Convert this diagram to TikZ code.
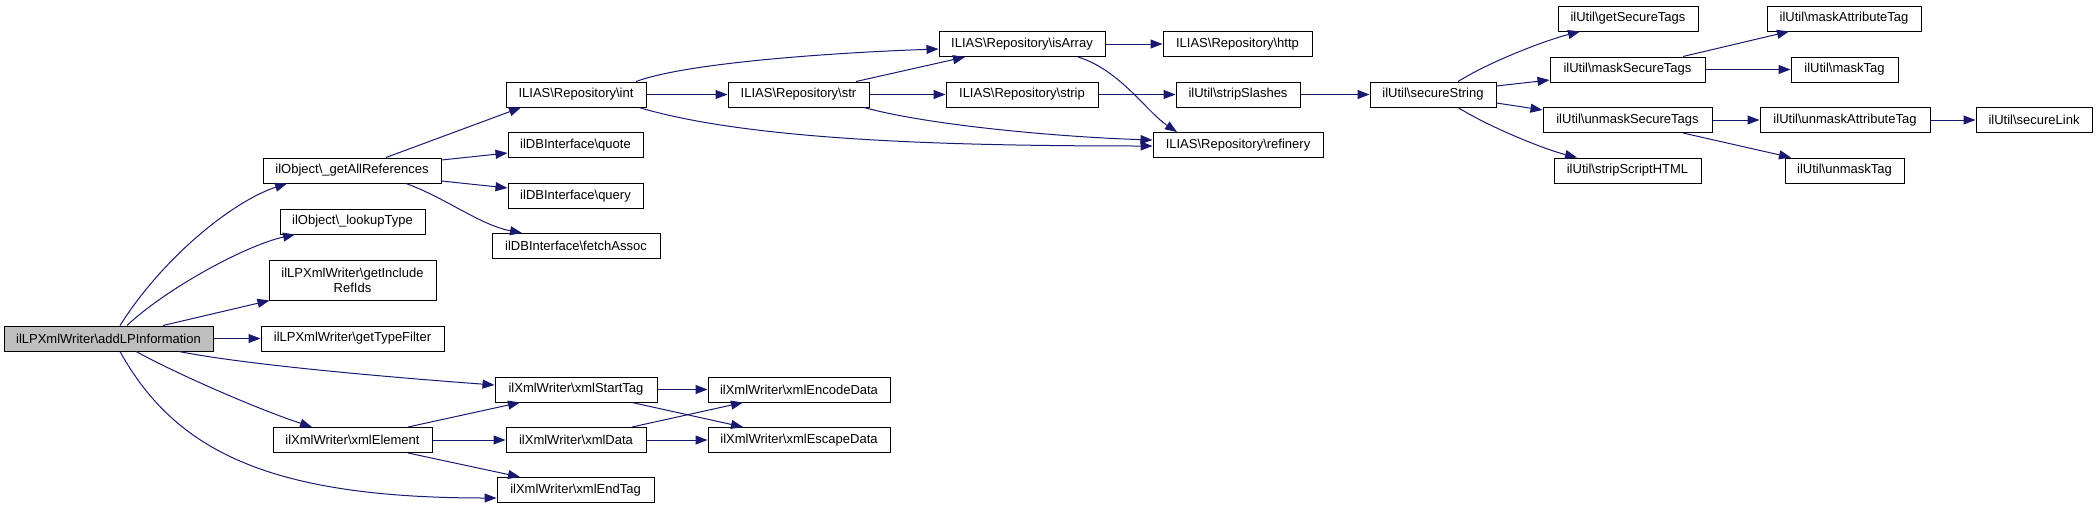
\documentclass[tikz,border=0pt]{standalone}
\usepackage{fontspec}
\setmainfont{Liberation Sans}
\usepackage{tikz}
\usetikzlibrary{arrows.meta}
\definecolor{callblue}{RGB}{25,25,112}
\definecolor{rootgray}{RGB}{191,191,191}
\newcommand{\bsl}{\textbackslash}

\begin{document}
\begin{tikzpicture}[x=1pt, y=-1pt,
    fn/.style={draw=black, line width=1pt, fill=white, inner sep=0pt, minimum height=25pt,
        font=\fontsize{13}{15}\selectfont},
    call/.style={draw=callblue, line width=1pt, -{Triangle[length=12pt,width=9pt]}}]
\useasboundingbox (0,0) rectangle (2097,509);

% left columns
\node[fn, fill=rootgray, minimum width=209pt] (addlp) at (108.5,338.5) {ilLPXmlWriter\bsl addLPInformation};
\node[fn, minimum width=178pt] (allrefs) at (352,170.5) {ilObject\bsl\_getAllReferences};
\node[fn, minimum width=145pt] (lookup) at (352.5,221.5) {ilObject\bsl\_lookupType};
\node[fn, minimum width=167pt, minimum height=40pt, align=center] (incl) at (352.5,280) {ilLPXmlWriter\bsl getInclude\\RefIds};
\node[fn, minimum width=183pt] (tfilter) at (352.5,338.5) {ilLPXmlWriter\bsl getTypeFilter};
\node[fn, minimum width=159pt] (element) at (352.5,440) {ilXmlWriter\bsl xmlElement};

\node[fn, minimum width=140pt] (int) at (576,94.5) {ILIAS\bsl Repository\bsl int};
\node[fn, minimum width=135pt] (quote) at (575.5,145) {ilDBInterface\bsl quote};
\node[fn, minimum width=135pt] (query) at (575.5,196) {ilDBInterface\bsl query};
\node[fn, minimum width=168pt] (fetch) at (576,246) {ilDBInterface\bsl fetchAssoc};
\node[fn, minimum width=162pt] (starttag) at (576,389.5) {ilXmlWriter\bsl xmlStartTag};
\node[fn, minimum width=140pt] (data) at (576,440) {ilXmlWriter\bsl xmlData};
\node[fn, minimum width=157pt] (endtag) at (575.5,490) {ilXmlWriter\bsl xmlEndTag};

\node[fn, minimum width=141pt] (str) at (798.5,94.5) {ILIAS\bsl Repository\bsl str};
\node[fn, minimum width=182pt] (encode) at (799,389.5) {ilXmlWriter\bsl xmlEncodeData};
\node[fn, minimum width=182pt] (escape) at (799,440) {ilXmlWriter\bsl xmlEscapeData};

% middle columns
\node[fn, minimum width=166pt] (isarray) at (1022,44) {ILIAS\bsl Repository\bsl isArray};
\node[fn, minimum width=152pt] (strip) at (1022,94.5) {ILIAS\bsl Repository\bsl strip};
\node[fn, minimum width=149pt] (http) at (1237.5,44) {ILIAS\bsl Repository\bsl http};
\node[fn, minimum width=124pt] (slashes) at (1238,94.5) {ilUtil\bsl stripSlashes};
\node[fn, minimum width=170pt] (refinery) at (1238,145) {ILIAS\bsl Repository\bsl refinery};
\node[fn, minimum width=126pt] (securestr) at (1433,94.5) {ilUtil\bsl secureString};

% right columns
\node[fn, minimum width=140pt] (gettags) at (1628,18.5) {ilUtil\bsl getSecureTags};
\node[fn, minimum width=155pt] (masktags) at (1627.5,69.5) {ilUtil\bsl maskSecureTags};
\node[fn, minimum width=169pt] (unmasktags) at (1627.5,120) {ilUtil\bsl unmaskSecureTags};
\node[fn, minimum width=147pt] (stripscript) at (1627.5,170.5) {ilUtil\bsl stripScriptHTML};
\node[fn, minimum width=154pt] (maskattr) at (1844,18.5) {ilUtil\bsl maskAttributeTag};
\node[fn, minimum width=107pt] (masktag) at (1844.5,69.5) {ilUtil\bsl maskTag};
\node[fn, minimum width=170pt] (unmaskattr) at (1845,120) {ilUtil\bsl unmaskAttributeTag};
\node[fn, minimum width=119pt] (unmasktag) at (1844.5,170.5) {ilUtil\bsl unmaskTag};
\node[fn, minimum width=116pt] (securelink) at (2034,120) {ilUtil\bsl secureLink};

% calls of addLPInformation
\draw[call] ([xshift=11.5pt]addlp.north) .. controls +(45,-71) and +(-52,17) .. ([xshift=-65pt]allrefs.south);
\draw[call] ([xshift=18.5pt]addlp.north) .. controls +(38,-36) and +(-50,11) .. ([xshift=-57.5pt]lookup.south);
\draw[call] ([xshift=54.5pt]addlp.north) -- ([xshift=1pt]incl.south west);
\draw[call] (addlp.east) -- (tfilter.west);
\draw[call] ([xshift=70.5pt]addlp.south) .. controls +(71,14) and +(-95,-7) .. ([yshift=4.5pt]starttag.west);
\draw[call] ([xshift=27.5pt]addlp.south) .. controls +(44,24) and +(-52,-17) .. ([xshift=-40.5pt]element.north);
\draw[call] ([xshift=11.5pt]addlp.south) .. controls +(55,99) and +(-228,0) .. ([yshift=-8pt]endtag.west);

\draw[call] ([xshift=34pt]allrefs.north) -- ([xshift=-55pt]int.south);
\draw[call] ([yshift=10.5pt]allrefs.east) -- ([yshift=-8pt]quote.west);
\draw[call] ([yshift=-10.5pt]allrefs.east) -- ([yshift=8pt]query.west);
\draw[call] ([xshift=54pt]allrefs.south) .. controls +(39,14) and +(-42,-8) .. ([xshift=-54pt]fetch.north);

\draw[call] ([xshift=60pt]int.north) .. controls +(54,-20) and +(-89,3) .. ([yshift=-5pt]isarray.west);
\draw[call] (int.east) -- (str.west);
\draw[call] ([xshift=63pt]int.south) .. controls +(111,33) and +(-203,0) .. ([yshift=-1pt]refinery.west);
\draw[call] ([xshift=57.5pt]str.north) -- ([xshift=-57pt]isarray.south);
\draw[call] (str.east) -- (strip.west);
\draw[call] ([xshift=65.5pt]str.south) .. controls +(66,18) and +(-93,-3) .. ([yshift=5pt]refinery.west);
\draw[call] (isarray.east) -- (http.west);
\draw[call] ([xshift=56pt]isarray.south) .. controls +(42,13) and +(-30,-20) .. ([xshift=-61pt]refinery.north);
\draw[call] (strip.east) -- (slashes.west);
\draw[call] (slashes.east) -- (securestr.west);

\draw[call] ([xshift=25pt]securestr.north) .. controls +(32,-20) and +(-35,9) .. ([xshift=-48pt]gettags.south);
\draw[call] ([yshift=8.5pt]securestr.east) -- ([yshift=-10.5pt]masktags.west);
\draw[call] ([yshift=-8.5pt]securestr.east) -- ([yshift=10pt]unmasktags.west);
\draw[call] ([xshift=25pt]securestr.south) .. controls +(32,20) and +(-32,-8) .. ([xshift=-50.5pt]stripscript.north);
\draw[call] ([xshift=55.5pt]masktags.north) -- ([xshift=-55pt]maskattr.south);
\draw[call] (masktags.east) -- (masktag.west);
\draw[call] (unmasktags.east) -- (unmaskattr.west);
\draw[call] ([xshift=55.5pt]unmasktags.south) -- ([xshift=-53.5pt]unmasktag.north);
\draw[call] (unmaskattr.east) -- (securelink.west);

% xml writer calls
\draw[call] ([xshift=55.5pt]element.north) -- ([xshift=-56pt]starttag.south);
\draw[call] (element.east) -- (data.west);
\draw[call] ([xshift=55.5pt]element.south) -- ([xshift=-55.5pt]endtag.north);
\draw[call] (starttag.east) -- (encode.west);
\draw[call] ([xshift=56pt]starttag.south) -- ([xshift=-56pt]escape.north);
\draw[call] ([xshift=56pt]data.north) -- ([xshift=-56pt]encode.south);
\draw[call] (data.east) -- (escape.west);
\end{tikzpicture}
\end{document}
